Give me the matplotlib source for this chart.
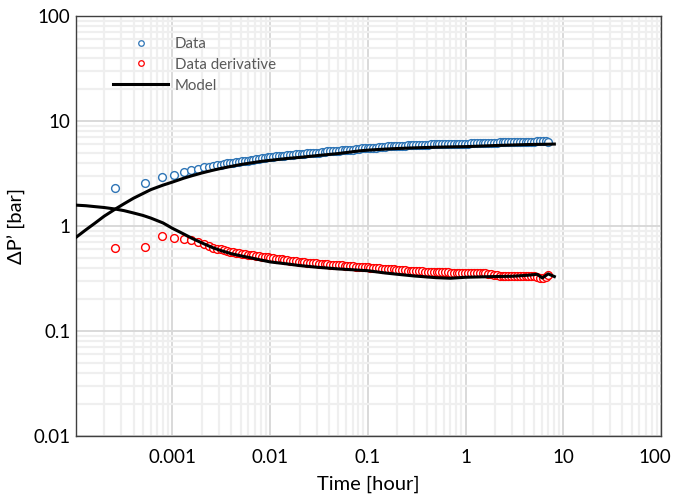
import matplotlib
matplotlib.use("Agg")
import matplotlib.pyplot as plt
from matplotlib.lines import Line2D
from matplotlib import ticker
from matplotlib.transforms import ScaledTranslation

plt.rcParams['font.family'] = ['Lato', 'DejaVu Sans']

# Measured data (time in hours), shared by pressure and derivative
time_h = [0.00026, 0.00052, 0.00078, 0.00104, 0.0013, 0.00156, 0.00182, 0.00208,
          0.00234, 0.0026, 0.00286, 0.00312, 0.00338, 0.00364, 0.0039,
          0.0042, 0.0045, 0.0048, 0.0051, 0.0055, 0.0059, 0.0063, 0.0067, 0.0072,
          0.0077, 0.0082, 0.0088, 0.0094, 0.0100, 0.0107, 0.0115, 0.0123, 0.0131,
          0.014, 0.015, 0.016, 0.0171, 0.0183, 0.0196, 0.021, 0.0224, 0.024,
          0.0257, 0.0275, 0.0294, 0.0315, 0.0337, 0.036, 0.0385, 0.0412, 0.0441,
          0.0472, 0.0505, 0.054, 0.0578, 0.0618, 0.0661, 0.0708, 0.0757, 0.081,
          0.0867, 0.0928, 0.0993, 0.106, 0.114, 0.122, 0.130, 0.139, 0.149,
          0.160, 0.171, 0.183, 0.195, 0.209, 0.224, 0.239, 0.256, 0.274, 0.293,
          0.314, 0.336, 0.359, 0.384, 0.411, 0.440, 0.471, 0.504, 0.539, 0.577,
          0.617, 0.660, 0.707, 0.756, 0.809, 0.866, 0.926, 0.991, 1.06, 1.13,
          1.21, 1.30, 1.39, 1.49, 1.59, 1.70, 1.82, 1.95, 2.09, 2.23, 2.39, 2.56,
          2.74, 2.93, 3.13, 3.35, 3.59, 3.84, 4.11, 4.40, 4.70, 5.03, 5.39, 5.76,
          6.17, 6.60, 6.90]

dp_data = [2.30, 2.57, 2.93, 3.06, 3.30, 3.38, 3.50, 3.62, 3.68, 3.75, 3.80, 3.84,
           3.90, 3.95, 4.00,
           4.02, 4.07, 4.10, 4.13, 4.17, 4.20, 4.24, 4.28, 4.32, 4.36, 4.40, 4.45,
           4.50, 4.55, 4.58, 4.60, 4.62, 4.64, 4.66, 4.72, 4.76, 4.78, 4.80, 4.82,
           4.85, 4.90, 4.94, 4.96, 4.97, 4.98, 5.00, 5.04, 5.10, 5.13, 5.14, 5.15,
           5.17, 5.20, 5.26, 5.30, 5.31, 5.32, 5.34, 5.37, 5.43, 5.50, 5.53, 5.54,
           5.55, 5.56, 5.58, 5.60, 5.64, 5.70, 5.72, 5.73, 5.74, 5.75, 5.76, 5.78,
           5.84, 5.88, 5.89, 5.89, 5.90, 5.90, 5.91, 5.92, 5.94, 5.98, 6.03, 6.05,
           6.05, 6.06, 6.06, 6.07, 6.07, 6.08, 6.08, 6.09, 6.09, 6.10, 6.10, 6.11,
           6.14, 6.17, 6.18, 6.18, 6.19, 6.19, 6.20, 6.20, 6.22, 6.27, 6.32, 6.34,
           6.34, 6.35, 6.35, 6.35, 6.36, 6.36, 6.36, 6.37, 6.37, 6.37, 6.38, 6.38,
           6.38, 6.38, 6.35]

dp_deriv = [0.62, 0.63, 0.80, 0.77, 0.76, 0.73, 0.70, 0.67, 0.64, 0.62, 0.61, 0.60,
            0.585, 0.575, 0.565,
            0.56, 0.555, 0.55, 0.545, 0.54, 0.535, 0.53, 0.525, 0.52, 0.515, 0.51,
            0.508, 0.505, 0.50, 0.495, 0.49, 0.485, 0.48, 0.476, 0.472, 0.468,
            0.465, 0.462, 0.458, 0.455, 0.452, 0.449, 0.446, 0.443, 0.44, 0.438,
            0.435, 0.433, 0.431, 0.429, 0.427, 0.425, 0.423, 0.421, 0.419, 0.417,
            0.415, 0.413, 0.411, 0.409, 0.407, 0.405, 0.403, 0.401, 0.399, 0.397,
            0.395, 0.393, 0.391, 0.389, 0.388, 0.386, 0.384, 0.382, 0.38, 0.378,
            0.376, 0.374, 0.372, 0.371, 0.37, 0.369, 0.368, 0.367, 0.366, 0.365,
            0.364, 0.363, 0.362, 0.362, 0.361, 0.36, 0.36, 0.36, 0.359, 0.359,
            0.358, 0.358, 0.357, 0.357, 0.356, 0.356, 0.355, 0.354, 0.352, 0.348,
            0.343, 0.338, 0.336, 0.335, 0.335, 0.334, 0.334, 0.334, 0.333, 0.333,
            0.333, 0.333, 0.333, 0.332, 0.331, 0.325, 0.322, 0.32, 0.325, 0.34]

# Model curves
model_time = [1.03e-4, 1.3e-4, 1.6e-4, 2e-4, 2.6e-4, 3.2e-4, 4e-4, 5e-4, 6e-4, 8e-4,
              1e-3, 1.3e-3, 1.6e-3, 2e-3, 2.6e-3, 3.2e-3, 4e-3, 5e-3, 6.5e-3, 8e-3,
              0.01, 0.015, 0.02, 0.03, 0.05, 0.08, 0.1, 0.15, 0.2, 0.3, 0.5, 0.7,
              1.0, 1.5, 2.0, 3.0, 4.4, 5.4, 6.1, 7.0, 8.1]
model_dp = [0.78, 0.92, 1.06, 1.24, 1.45, 1.63, 1.84, 2.04, 2.22, 2.45, 2.62, 2.85,
            3.02, 3.20, 3.40, 3.55, 3.70, 3.85, 4.00, 4.12, 4.22, 4.40, 4.50, 4.68,
            4.90, 5.18, 5.28, 5.40, 5.47, 5.55, 5.63, 5.67, 5.70, 5.78, 5.84, 5.91,
            5.97, 5.99, 6.00, 6.01, 6.03]
model_deriv = [1.58, 1.56, 1.53, 1.50, 1.45, 1.40, 1.33, 1.26, 1.19, 1.07, 0.95, 0.84,
               0.76, 0.69, 0.62, 0.58, 0.545, 0.52, 0.495, 0.475, 0.455, 0.435, 0.42,
               0.405, 0.39, 0.38, 0.375, 0.357, 0.347, 0.334, 0.322, 0.318, 0.325,
               0.328, 0.33, 0.332, 0.34, 0.347, 0.32, 0.35, 0.33]

blue = '#2e75b6'
red = '#ff0000'

fig = plt.figure(figsize=(6.75, 4.98), dpi=100)
ax = fig.add_axes([76 / 675, 62 / 498, 585 / 675, 420 / 498])

ax.plot(time_h, dp_data, 'o', ms=5.6, mfc='white', mec=blue, mew=1.0, zorder=3)
ax.plot(time_h, dp_deriv, 'o', ms=5.6, mfc='white', mec=red, mew=1.0, zorder=3)
ax.plot(model_time, model_dp, '-', color='black', lw=2.2, zorder=4)
ax.plot(model_time, model_deriv, '-', color='black', lw=2.2, zorder=4)

ax.set_xscale('log')
ax.set_yscale('log')
ax.set_xlim(1.03e-4, 100)
ax.set_ylim(0.01, 100)

ax.set_xticks([0.001, 0.01, 0.1, 1, 10, 100])
ax.set_yticks([0.01, 0.1, 1, 10, 100])
fmt = ticker.FuncFormatter(lambda v, _: f'{v:g}')
ax.xaxis.set_major_formatter(fmt)
ax.yaxis.set_major_formatter(fmt)
ax.xaxis.set_minor_locator(ticker.LogLocator(base=10, subs=range(2, 10), numticks=20))
ax.yaxis.set_minor_locator(ticker.LogLocator(base=10, subs=range(2, 10), numticks=20))
ax.xaxis.set_minor_formatter(ticker.NullFormatter())
ax.yaxis.set_minor_formatter(ticker.NullFormatter())
ax.tick_params(which='both', length=0, labelsize=13.5, labelcolor='black')
ax.tick_params(axis='x', pad=9)
ax.tick_params(axis='y', pad=4)

ax.grid(which='major', color='#d9d9d9', lw=1.4)
ax.grid(which='minor', color='#efefef', lw=1.6)
ax.set_axisbelow(True)

for s in ax.spines.values():
    s.set_color('#404040')
    s.set_linewidth(1.0)

ax.set_xlabel('Time [hour]', fontsize=14.5, labelpad=7)
ax.set_ylabel('ΔP’ [bar]', fontsize=14.5, labelpad=5)

# keep the "100" label inside the figure, as in the original
fig.canvas.draw()
last = ax.get_xticklabels()[-1]
last.set_transform(last.get_transform() + ScaledTranslation(-6 / 100, 0, fig.dpi_scale_trans))

handles = [
    Line2D([], [], ls='none', marker='o', ms=4, mfc='white', mec=blue, mew=0.9),
    Line2D([], [], ls='none', marker='o', ms=4, mfc='white', mec=red, mew=0.9),
    Line2D([], [], color='black', lw=2.2),
]
leg = ax.legend(handles, ['Data', 'Data derivative', 'Model'], loc='upper left',
                bbox_to_anchor=(0.063, 0.95), borderaxespad=0, borderpad=0,
                frameon=False, fontsize=10.8, handlelength=3.7, handletextpad=0.45,
                labelspacing=0.45)
for t in leg.get_texts():
    t.set_color('#595959')

fig.savefig('out.png', dpi=100)
